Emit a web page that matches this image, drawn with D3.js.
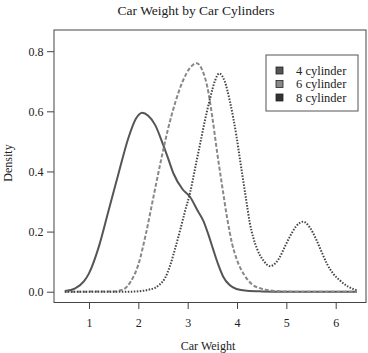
<!DOCTYPE html>
<html><head><meta charset="utf-8">
<script src="https://cdn.jsdelivr.net/npm/d3@7"></script>
<style>body{margin:0;background:#fff}svg{display:block}text{font-family:"Liberation Serif","Times New Roman",serif !important;fill:#222}</style>
</head><body><svg id="c" width="368" height="353"></svg>
<script>
const title = "Car Weight by Car Cylinders";
const xLabel = "Car Weight";
const yLabel = "Density";
const xTicks = [1, 2, 3, 4, 5, 6];
const yTicks = [0.0, 0.2, 0.4, 0.6, 0.8];
const seriesNames = ["4 cylinder", "6 cylinder", "8 cylinder"];
const cyl4X = [0.51,0.72,0.9,1.0,1.2,1.4,1.6,1.8,1.95,2.08,2.2,2.34,2.5,2.6,2.71,2.9,3.05,3.2,3.32,3.42,3.52,3.62,3.72,3.85,3.99,4.2,4.5,5.0,6.43];
const cyl4Y = [0.002,0.011,0.035,0.061,0.15,0.272,0.394,0.512,0.575,0.595,0.585,0.555,0.49,0.445,0.394,0.34,0.315,0.27,0.235,0.19,0.139,0.09,0.05,0.022,0.009,0.003,0.001,0,0];
const cyl6X = [0.51,1.5,1.7,1.85,2.0,2.15,2.3,2.45,2.6,2.75,2.9,3.05,3.18,3.3,3.4,3.5,3.6,3.7,3.8,3.9,4.0,4.15,4.3,4.5,4.8,5.2,6.43];
const cyl6Y = [0,0.001,0.008,0.035,0.09,0.19,0.31,0.43,0.54,0.63,0.7,0.745,0.76,0.735,0.68,0.58,0.46,0.35,0.245,0.16,0.105,0.055,0.025,0.01,0.002,0,0];
const cyl8X = [0.51,1.8,2.1,2.24,2.34,2.44,2.54,2.64,2.74,2.84,2.95,3.05,3.15,3.25,3.35,3.45,3.55,3.64,3.75,3.86,3.99,4.06,4.13,4.2,4.26,4.33,4.4,4.53,4.67,4.78,4.87,4.97,5.07,5.2,5.34,5.47,5.61,5.72,5.82,5.95,6.09,6.25,6.43];
const cyl8Y = [0,0,0.003,0.008,0.013,0.025,0.045,0.085,0.14,0.2,0.27,0.33,0.41,0.49,0.57,0.64,0.7,0.726,0.7,0.63,0.516,0.44,0.365,0.29,0.228,0.18,0.145,0.105,0.085,0.095,0.116,0.15,0.183,0.218,0.233,0.215,0.172,0.13,0.094,0.06,0.037,0.017,0.005];

const svg = d3.select("#c");
svg.append("rect").attr("width",368).attr("height",353).attr("fill","#fff");
const L=54, R=366, T=30, B=302.5;
const x = d3.scaleLinear().domain([0.291,6.614]).range([L,R]);
const y = d3.scaleLinear().domain([-0.0359,0.8705]).range([B,T]);

svg.append("text").attr("x",196).attr("y",15).attr("text-anchor","middle").attr("font-size",13.5).text(title);

const xa = svg.append("g").attr("transform",`translate(0,${B})`)
  .call(d3.axisBottom(x).tickValues(xTicks).tickFormat(d3.format("d")).tickSize(6.5).tickPadding(9));
xa.select(".domain").remove();
const ya = svg.append("g").attr("transform",`translate(${L},0)`)
  .call(d3.axisLeft(y).tickValues(yTicks).tickFormat(d3.format(".1f")).tickSize(7).tickPadding(3.5));
ya.select(".domain").remove();
svg.selectAll(".tick line").attr("stroke","#444");
svg.selectAll(".tick text").attr("font-size",12).attr("fill","#222");

svg.append("rect").attr("x",L).attr("y",T).attr("width",R-L).attr("height",B-T)
  .attr("fill","none").attr("stroke","#444").attr("stroke-width",1);

svg.append("text").attr("x",208).attr("y",350).attr("text-anchor","middle").attr("font-size",12).text(xLabel);
svg.append("text").attr("transform","translate(12,163) rotate(-90)").attr("text-anchor","middle").attr("font-size",12).text(yLabel);

const line = d3.line().x(d=>x(d[0])).y(d=>y(d[1])).curve(d3.curveMonotoneX);
const series = [
  {xs:cyl4X, ys:cyl4Y, color:"#555", dash:null},
  {xs:cyl6X, ys:cyl6Y, color:"#888", dash:"4,2"},
  {xs:cyl8X, ys:cyl8Y, color:"#444", dash:"1.5,1.5"}
];
series.forEach(s=>{
  svg.append("path").datum(d3.zip(s.xs,s.ys)).attr("d",line)
    .attr("fill","none").attr("stroke",s.color).attr("stroke-width",2)
    .attr("stroke-dasharray",s.dash);
});

// legend
const lg = svg.append("g");
lg.append("rect").attr("x",266).attr("y",55).attr("width",92).attr("height",56)
  .attr("fill","#fff").attr("stroke","#555").attr("stroke-width",1);
const legFill = ["#555","#888","#333"];
seriesNames.forEach((n,i)=>{
  const cy = 70.5 + i*13.5;
  lg.append("rect").attr("x",276).attr("y",cy-3.5).attr("width",7).attr("height",7)
    .attr("fill",legFill[i]).attr("stroke","#222").attr("stroke-width",0.8);
  lg.append("text").attr("x",296).attr("y",cy+4).attr("font-size",12.5).text(n);
});
</script></body></html>
